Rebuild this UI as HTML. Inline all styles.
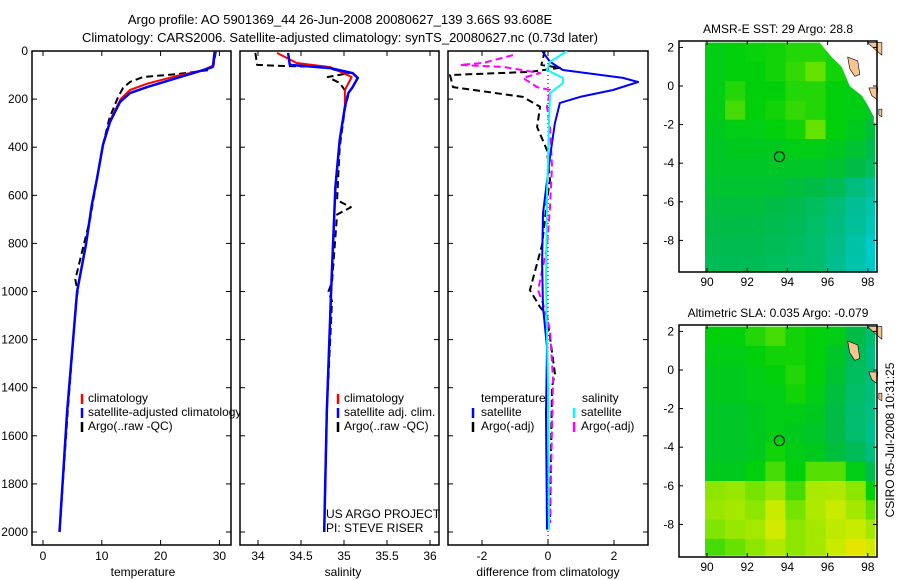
<!DOCTYPE html>
<html><head><meta charset="utf-8">
<style>
body{margin:0;background:#fff;}
svg{display:block;font-family:"Liberation Sans",sans-serif;}
text{font-size:12px;fill:#000;}
</style></head>
<body>
<svg id="c" width="900" height="580" viewBox="0 0 900 580">
<text x="340" y="24" text-anchor="middle" style="font-size:13px">Argo profile: AO 5901369_44 26-Jun-2008 20080627_139 3.66S 93.608E</text>
<text x="340" y="42" text-anchor="middle" style="font-size:13px">Climatology: CARS2006. Satellite-adjusted climatology: synTS_20080627.nc (0.73d later)</text>
</svg>
<script>
// ---------- data ----------
const depthTicks=[0,200,400,600,800,1000,1200,1400,1600,1800,2000];
const tempTicks=[0,10,20,30];
const salTicks=[34,34.5,35,35.5,36];
const diffTicks=[-2,0,2];
const tempClimDepth=[0,60,80,103,136,162,200,290,390,528,640,806,1000,1500,2000];
const tempClimVal=[29.3,29.0,27.2,22.8,17.7,14.8,13.2,11.4,10.2,9.2,8.3,7.3,5.8,4.1,2.8];
const tempSatDepth=[0,66,80,112,150,175,212,295,390,528,640,806,1000,1500,2000];
const tempSatVal=[29.2,28.9,27.2,22.8,17.7,14.8,13.1,11.4,10.2,9.2,8.3,7.3,5.8,4.1,2.8];
const tempArgoDepth=[0,60,80,96,108,129,154,195,280,400,528,700,950,1000,1050,1500,2000];
const tempArgoVal=[29.4,29.0,28.0,22.8,17.0,14.8,13.6,12.7,11.3,10.1,9.2,8.0,5.5,5.9,5.6,4.2,2.8];
const salClimDepth=[8,50,67,108,162,232,370,565,1000,1500,2000];
const salClimVal=[34.22,34.45,34.84,35.09,35.01,35.01,34.95,34.9,34.85,34.8,34.77];
const salSatDepth=[8,58,71,92,112,150,175,232,370,565,1000,1500,2000];
const salSatVal=[34.35,34.37,34.84,35.1,35.16,35.1,35.05,35.01,34.95,34.9,34.85,34.8,34.77];
const salArgoDepth=[8,58,62,66,87,92,108,133,183,240,400,620,650,680,960,1000,1040,1500,2000];
const salArgoVal=[33.97,33.99,34.26,34.76,34.99,35.06,34.81,34.95,35.05,35.01,34.95,34.92,35.08,34.92,34.86,34.82,34.86,34.8,34.77];
const dTempSatDepth=[0,45,79,112,129,162,191,216,300,440,675,880,1065,1230,1506,1990];
const dTempSatVal=[-0.18,0.06,0.45,2.27,2.73,1.97,0.97,0.36,0.21,0.06,-0.15,-0.18,-0.15,-0.03,-0.06,-0.03];
const dTempArgoDepth=[0,30,58,70,87,100,150,191,232,316,412,536,620,806,994,1065,1100,1340,1397,1962];
const dTempArgoVal=[-0.1,-0.15,-0.2,0.36,-0.55,-2.97,-2.88,-0.76,-0.24,-0.33,-0.03,0.06,-0.03,-0.18,-0.55,-0.24,-0.03,0.21,0.12,0.06];
const dSalSatDepth=[0,45,79,112,133,175,300,600,952,1400,1990];
const dSalSatVal=[0.58,0.06,-0.03,0.45,0.45,0.06,0.03,-0.03,-0.06,0,0.03];
const dSalArgoDepth=[17,50,58,66,92,112,150,162,232,316,482,648,815,994,1050,1160,1368,1962];
const dSalArgoVal=[-1.06,-1.97,-2.67,-1.36,-0.24,-0.76,-0.33,0.06,-0.03,0.06,0.12,0.06,-0.03,-0.3,-0.15,0.06,0.15,0.06];
const lonTicks=[90,92,94,96,98];
const sstLatTicks=[2,0,-2,-4,-6,-8];
const argoLon=93.6, argoLat=-3.66;
const sstGrid=[
[.60,.62,.63,.64,.66,.66,.64,.62,.60],
[.60,.62,.62,.64,.68,.74,.64,.62,.60],
[.60,.66,.62,.62,.66,.66,.62,.60,.58],
[.60,.70,.62,.64,.68,.66,.62,.60,.56],
[.58,.60,.60,.62,.64,.74,.62,.58,.52],
[.56,.58,.58,.58,.60,.60,.58,.54,.48],
[.56,.56,.56,.56,.56,.56,.54,.50,.44],
[.54,.54,.54,.54,.52,.50,.46,.36,.30],
[.52,.52,.52,.50,.48,.44,.38,.30,.22],
[.50,.50,.50,.48,.46,.42,.36,.28,.18],
[.48,.48,.48,.46,.44,.40,.34,.24,.10],
[.46,.46,.46,.44,.42,.40,.32,.22,.12]];
const slaGrid=[
[.62,.62,.66,.70,.64,.62,.60,.50,.40],
[.60,.60,.62,.64,.64,.62,.56,.46,.36],
[.58,.58,.60,.62,.66,.62,.54,.44,.36],
[.58,.58,.60,.60,.64,.60,.52,.42,.36],
[.56,.56,.58,.60,.60,.58,.50,.40,.34],
[.56,.56,.58,.60,.58,.56,.50,.40,.32],
[.56,.56,.58,.64,.60,.58,.52,.46,.36],
[.58,.58,.62,.70,.62,.72,.72,.60,.48],
[.80,.82,.76,.82,.70,.85,.86,.80,.62],
[.82,.84,.80,.90,.76,.86,.90,.84,.74],
[.78,.82,.84,.92,.80,.84,.88,.90,.84],
[.70,.74,.80,.86,.80,.84,.90,.96,.92]];

const NS="http://www.w3.org/2000/svg";
const svg=document.getElementById('c');
function mk(tag,attrs,parent){const e=document.createElementNS(NS,tag);for(const k in attrs)e.setAttribute(k,attrs[k]);(parent||svg).appendChild(e);return e;}
const yD=d=>51+0.2405*d;
const xT=v=>43+5.88*v;
const xS=v=>258+86*(v-34);
const xDf=v=>548+33*v;

function panel(x0,x1,name){
  const r=mk('rect',{x:x0,y:51,width:x1-x0,height:494,fill:'#fff',stroke:'#000','stroke-width':1.5});
  
  
}
function clip(id,x0,x1){const cp=mk('clipPath',{id:id});mk('rect',{x:x0,y:51,width:x1-x0,height:494},cp);}
function ticksPanel(x0,x1,xs,labels,fx,showDepth){
  const g=mk('g',{stroke:'#000','stroke-width':1});
  depthTicks.forEach(d=>{mk('line',{x1:x0,x2:x0+5,y1:yD(d),y2:yD(d)},g);mk('line',{x1:x1,x2:x1-5,y1:yD(d),y2:yD(d)},g);
    if(showDepth){const t=mk('text',{x:28,y:yD(d)+4,'text-anchor':'end'});t.textContent=d;
      
      }});
  xs.forEach(v=>{const X=fx(v);mk('line',{x1:X,x2:X,y1:545,y2:540},g);mk('line',{x1:X,x2:X,y1:51,y2:56},g);
    const t=mk('text',{x:X,y:560,'text-anchor':'middle'});t.textContent=v;
    
    });
}
function line(dep,val,fx,color,w,dash,cid,name){
  const pts=dep.map((d,i)=>fx(val[i]).toFixed(1)+','+yD(d).toFixed(1)).join(' ');
  const a={points:pts,fill:'none',stroke:color,'stroke-width':w,'clip-path':'url(#'+cid+')','stroke-linejoin':'round'};
  if(dash)a['stroke-dasharray']=dash;
  const p=mk('polyline',a);
  
  
}
function label(x,y,txt,name,anchor){const t=mk('text',{x:x,y:y,'text-anchor':anchor||'start'});t.textContent=txt;
  
  return t;}
function legMark(x,y,color,name){const l=mk('line',{x1:x,x2:x,y1:y-10,y2:y,stroke:color,'stroke-width':2.5});
  
  }

clip('c1',32,231);clip('c2',240,439);clip('c3',448,648);
panel(32,231,'temperature-panel');
ticksPanel(32,231,tempTicks,null,xT,true);
line(tempArgoDepth,tempArgoVal,xT,'#000',2,'7,4','c1','temp-argo-line');
line(tempClimDepth,tempClimVal,xT,'#f00',2,null,'c1','temp-climatology-line');
line(tempSatDepth,tempSatVal,xT,'#00f',2.5,null,'c1','temp-satellite-line');
legMark(82,404,'#f00','legend-climatology-marker');label(88,402,'climatology','legend-climatology');
legMark(82,418,'#00f','legend-satellite-marker');label(88,416,'satellite-adjusted climatology','legend-satellite-adjusted');
legMark(82,432,'#000','legend-argo-marker');label(88,430,'Argo(..raw -QC)','legend-argo');
label(143,576,'temperature','x-axis-title-temperature','middle');

panel(240,439,'salinity-panel');
ticksPanel(240,439,salTicks,null,xS,false);
line(salArgoDepth,salArgoVal,xS,'#000',2,'7,4','c2','sal-argo-line');
line(salClimDepth,salClimVal,xS,'#f00',2,null,'c2','sal-climatology-line');
line(salSatDepth,salSatVal,xS,'#00f',2.5,null,'c2','sal-satellite-line');
legMark(338,404,'#f00','legend2-climatology-marker');label(344,402,'climatology','legend2-climatology');
legMark(338,418,'#00f','legend2-satellite-marker');label(344,416,'satellite adj. clim.','legend2-satellite');
legMark(338,432,'#000','legend2-argo-marker');label(344,430,'Argo(..raw -QC)','legend2-argo');
label(326,518,'US ARGO PROJECT','project-label');
label(326,532,'PI: STEVE RISER','pi-label');
label(343,576,'salinity','x-axis-title-salinity','middle');

panel(448,648,'difference-panel');
ticksPanel(448,648,diffTicks,null,xDf,false);
mk('line',{x1:xDf(0),x2:xDf(0),y1:51,y2:545,stroke:'#000','stroke-width':1,'stroke-dasharray':'1,3'});
line(dTempArgoDepth,dTempArgoVal,xDf,'#000',2,'7,4','c3','diff-temp-argo-line');
line(dSalArgoDepth,dSalArgoVal,xDf,'#f0f',2,'7,4','c3','diff-sal-argo-line');
line(dTempSatDepth,dTempSatVal,xDf,'#00f',2,null,'c3','diff-temp-satellite-line');
line(dSalSatDepth,dSalSatVal,xDf,'#0ff',2,null,'c3','diff-sal-satellite-line');
label(481,402,'temperature','legend3-temperature-heading');
legMark(473,418,'#00f','legend3-temp-sat-marker');label(481,416,'satellite','legend3-temp-satellite');
legMark(473,432,'#000','legend3-temp-argo-marker');label(481,430,'Argo(-adj)','legend3-temp-argo');
label(582,402,'salinity','legend3-salinity-heading');
legMark(574,418,'#0ff','legend3-sal-sat-marker');label(581,416,'satellite','legend3-sal-satellite');
legMark(574,432,'#f0f','legend3-sal-argo-marker');label(581,430,'Argo(-adj)','legend3-sal-argo');
label(548,576,'difference from climatology','x-axis-title-difference','middle');

const stops=[[0,[0,210,230]],[0.3,[0,190,150]],[0.5,[0,188,70]],[0.62,[0,208,10]],[0.75,[110,228,0]],[0.9,[200,235,0]],[1,[250,225,0]]];
function cmap(v){for(let i=1;i<stops.length;i++){if(v<=stops[i][0]){const a=stops[i-1],b=stops[i],t=(v-a[0])/(b[0]-a[0]);
  return 'rgb('+a[1].map((c,k)=>Math.round(c+(b[1][k]-c)*t)).join(',')+')';}}return 'rgb(250,225,0)';}
function drawMap(top,bot,latY0,name,grid,title,mask){
  const fx=lon=>707+20.1*(lon-90);
  const fy=lat=>latY0-19.3*lat;
  const g=mk('g',{});
  mk('rect',{x:679,y:top,width:198,height:bot-top,fill:'#fff'},g);
  grid.forEach((row,j)=>row.forEach((v,i)=>{
    const lo0=89.9+i, lo1=Math.min(90.9+i,98.35), la0=2.25-j, la1=Math.max(1.25-j,-9.6);
    const r=mk('rect',{x:fx(lo0),y:fy(la0),width:fx(lo1)-fx(lo0)+0.5,height:fy(la1)-fy(la0)+0.5,fill:cmap(v)},g);
    
    
  }));
  if(mask){const pts=[[95.5,2.4],[98.8,2.4],[98.8,-1.9],[98.3,-1.9],[98.3,-1.6],[98.0,-1.0],[97.7,-0.5],[97.1,0.0],[96.7,1.0],[96.2,1.5],[95.8,2.0]].map(p=>fx(p[0])+','+fy(p[1])).join(' ');
    mk('polygon',{points:pts,fill:'#fff'},g);}
  const isl=[[[98.0,2.25],[98.7,2.25],[98.7,1.6],[98.35,1.9]],[[97.0,1.5],[97.5,1.3],[97.6,0.6],[97.35,0.5],[97.1,0.9]],[[98.05,-0.1],[98.5,-0.1],[98.45,-0.7],[98.2,-0.5]],[[98.55,-1.2],[98.7,-1.2],[98.7,-1.6],[98.55,-1.5]]];
  isl.forEach(s=>{const p=mk('polygon',{points:s.map(q=>fx(q[0])+','+fy(q[1])).join(' '),fill:'#f8c490',stroke:'#000','stroke-width':0.6},g);
    });
  mk('rect',{x:679,y:top,width:198,height:bot-top,fill:'none',stroke:'#000','stroke-width':1.5},g);
  lonTicks.forEach(l=>{const X=fx(l);mk('line',{x1:X,x2:X,y1:bot,y2:bot-4,stroke:'#000'},g);mk('line',{x1:X,x2:X,y1:top,y2:top+4,stroke:'#000'},g);
    const t=mk('text',{x:X,y:bot+14,'text-anchor':'middle'},g);t.textContent=l;
    });
  sstLatTicks.forEach(l=>{const Y=fy(l);mk('line',{x1:679,x2:683,y1:Y,y2:Y,stroke:'#000'},g);mk('line',{x1:877,x2:873,y1:Y,y2:Y,stroke:'#000'},g);
    const t=mk('text',{x:674,y:Y+4,'text-anchor':'end'},g);t.textContent=l;
    });
  const c=mk('circle',{cx:fx(argoLon),cy:fy(argoLat),r:5,fill:'none',stroke:'#000','stroke-width':1},g);
  
  const t=mk('text',{x:778,y:top-8,'text-anchor':'middle'},g);t.textContent=title;
  
}
drawMap(41,272,86,'sst-map',sstGrid,'AMSR-E SST: 29 Argo: 28.8',true);
drawMap(325,557,370,'sla-map',slaGrid,'Altimetric SLA: 0.035 Argo: -0.079',false);
const cs=mk('text',{x:0,y:0,'text-anchor':'middle',transform:'translate(894,440) rotate(-90)'});
cs.textContent='CSIRO 05-Jul-2008 10:31:25';


</script>
</body></html>
